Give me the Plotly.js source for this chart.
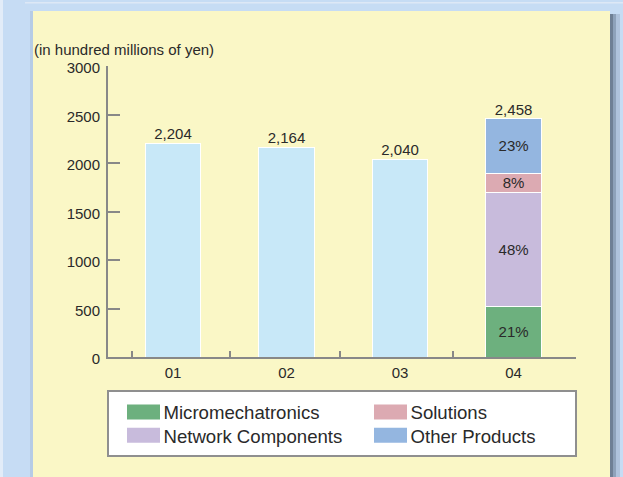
<!DOCTYPE html>
<html>
<head>
<meta charset="utf-8">
<script src="https://cdn.plot.ly/plotly-3.0.1.min.js"></script>
<style>
  html, body { margin: 0; padding: 0; background: #c6dcf4; }
  #chart { width: 623px; height: 477px; }
</style>
</head>
<body>
<div id="chart"></div>
<script>
// ---- data ----
const categories = ['01', '02', '03', '04'];
const pastYears = ['01', '02', '03'];
const pastSales = [2204, 2164, 2040];
const segYear = ['04'];
const segmentNames = ['Micromechatronics', 'Network Components', 'Solutions', 'Other Products'];
const segmentValues = [516, 1180, 197, 565];
const segmentLabels = ['21%', '48%', '8%', '23%'];
const totals = [2204, 2164, 2040, 2458];
const totalLabels = ['2,204', '2,164', '2,040', '2,458'];
const yTickVals = [0, 500, 1000, 1500, 2000, 2500, 3000];
const yTickText = ['0', '500', '1000', '1500', '2000', '2500', '3000'];

// ---- styles ----
const segmentColors = ['#6db07e', '#c8bbdc', '#dcaab2', '#94b6e0'];
const legendRanks = [1, 3, 2, 4];
const pastColor = '#c8e8f8';
const FONT = '"Liberation Sans", Arial, sans-serif';
const txt = '#2a2a2a';

const W = 623, H = 477, L = 108, R = 47, T = 66, B = 120;
const pw = W - L - R, ph = H - T - B;
const fx = px => (px - L) / pw;
const fy = py => (H - B - py) / ph;
const xRange = [-0.573, 3.55];
const sepTicks = [-0.36, 0.5, 1.47, 2.47];

const traces = [];
traces.push({
  type: 'bar', x: pastYears, y: pastSales, width: 0.49,
  marker: { color: pastColor, line: { color: '#ffffff', width: 1 } },
  showlegend: false, hoverinfo: 'skip'
});
segmentNames.forEach((name, i) => {
  traces.push({
    type: 'bar', name: name, x: segYear, y: [segmentValues[i]], width: 0.49,
    text: [segmentLabels[i]], textposition: 'inside', insidetextanchor: 'middle',
    constraintext: 'none',
    textfont: { family: FONT, size: 15, color: txt },
    marker: { color: segmentColors[i], line: { color: '#ffffff', width: 1 } },
    legendrank: legendRanks[i], hoverinfo: 'skip'
  });
});
traces.push({
  type: 'scatter', mode: 'text', x: categories, y: totals, text: totalLabels,
  textposition: 'top center', textfont: { family: FONT, size: 15, color: txt },
  showlegend: false, hoverinfo: 'skip', cliponaxis: false
});
// invisible helper so the separator-tick axis is drawn
traces.push({
  type: 'scatter', mode: 'markers', x: [0], y: [0], xaxis: 'x2', yaxis: 'y',
  marker: { opacity: 0, size: 1 }, showlegend: false, hoverinfo: 'skip'
});

const rect = (x0, x1, y0, y1, color) => ({
  type: 'rect', xref: 'paper', yref: 'paper', layer: 'below',
  x0: fx(x0), x1: fx(x1), y0: fy(y0), y1: fy(y1),
  fillcolor: color, line: { width: 0 }
});

const shapes = [
  rect(0, 3, -5, 490, '#e2ecf8'),
  rect(25, 623, 2, 3.5, '#dde8f6'),
  rect(30, 33, 11, 490, '#b6cce6'),
  rect(33, 610, 11, 490, '#faf7c6'),
  rect(610, 613, 14, 490, '#6f8095'),
  rect(613, 616, 14, 490, '#8ea2ba'),
  rect(616, 620, 14, 490, '#afc3dc'),
  {
    type: 'rect', xref: 'paper', yref: 'paper', layer: 'above',
    x0: fx(108), x1: fx(576), y0: fy(391), y1: fy(456),
    fillcolor: '#ffffff', line: { color: '#8f8f8f', width: 2 }
  }
];

const layout = {
  width: W, height: H,
  margin: { l: L, r: R, t: T, b: B, pad: 0, autoexpand: false },
  paper_bgcolor: '#c6dcf4', plot_bgcolor: 'rgba(0,0,0,0)',
  font: { family: FONT, size: 14, color: txt },
  barmode: 'stack',
  showlegend: true,
  xaxis: {
    type: 'category', categoryorder: 'array', categoryarray: categories,
    range: xRange, showline: true, linecolor: '#888888', linewidth: 2,
    ticks: '', showgrid: false, zeroline: false,
    tickfont: { family: FONT, size: 15, color: txt }, ticklabelstandoff: 1
  },
  xaxis2: {
    overlaying: 'x', anchor: 'y', type: 'linear', range: xRange,
    tickmode: 'array', tickvals: sepTicks, ticks: 'inside', ticklen: 6, tickwidth: 2,
    tickcolor: '#888888', showticklabels: false, showgrid: false, zeroline: false, showline: false
  },
  yaxis: {
    range: [0, 3000], tickmode: 'array', tickvals: yTickVals, ticktext: yTickText,
    ticks: 'inside', ticklen: 12, tickwidth: 2, tickcolor: '#888888',
    showline: true, linecolor: '#888888', linewidth: 2,
    showgrid: false, zeroline: false, ticklabelstandoff: 3, ticklabelshift: 2,
    tickfont: { family: FONT, size: 15, color: txt }
  },
  legend: {
    orientation: 'h', traceorder: 'normal',
    x: fx(617.5), xanchor: 'right', y: fy(393.5), yanchor: 'top',
    entrywidth: 202, entrywidthmode: 'pixels',
    bgcolor: 'rgba(0,0,0,0)', borderwidth: 0,
    font: { family: FONT, size: 18.6, color: txt }
  },
  annotations: [{
    text: '(in hundred millions of yen)', showarrow: false,
    xref: 'paper', yref: 'paper', x: fx(32), xanchor: 'left', y: fy(50), yanchor: 'middle',
    font: { family: FONT, size: 15, color: txt }
  }],
  shapes: shapes
};

Plotly.newPlot('chart', traces, layout, { displayModeBar: false, staticPlot: true }).then(gd => {
  // enlarge legend swatches to the wide rectangles of the reference
  gd.querySelectorAll('.legend .legendpoints path').forEach(p => {
    const t = p.getAttribute('transform') || '';
    p.setAttribute('transform', t + ' scale(2.75,1.25)');
    p.style.strokeWidth = '0';
  });
  // tighten the row spacing of the two-row legend
  const items = gd.querySelectorAll('.legend .traces');
  items.forEach((g, i) => {
    if (i >= 2) {
      const m = /translate\(\s*([-\d.]+)[ ,]+([-\d.]+)\s*\)/.exec(g.getAttribute('transform') || '');
      if (m) g.setAttribute('transform', 'translate(' + m[1] + ',' + (parseFloat(m[2]) - 4) + ')');
    }
  });
});
</script>
</body>
</html>
